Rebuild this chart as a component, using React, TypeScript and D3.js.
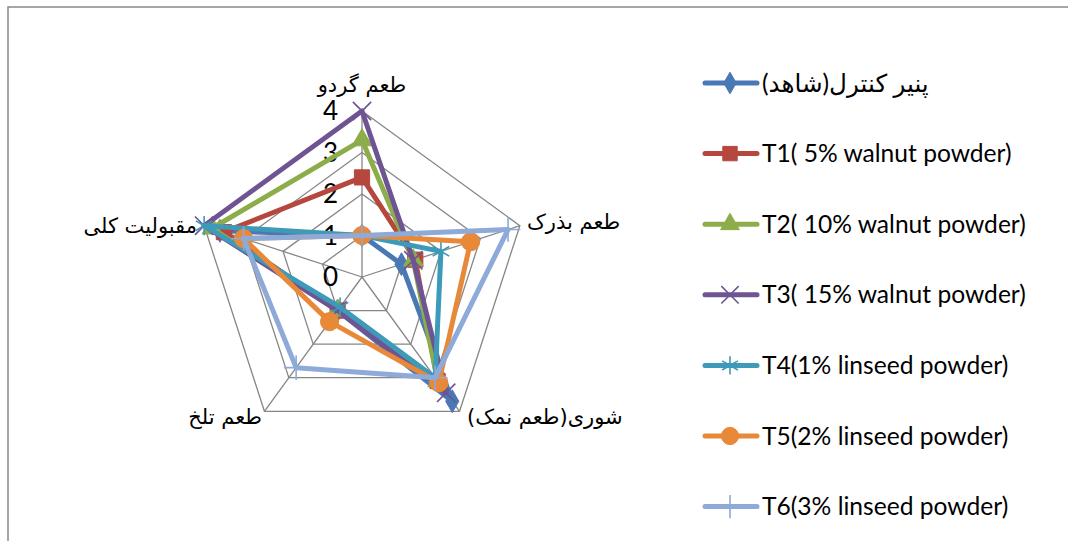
import { useEffect, useRef } from 'react';
import * as d3 from 'd3';

// axes, clockwise from the top
const axes = ['طعم گردو', 'طعم بذرک', 'شوری(طعم نمک)\u200F', 'طعم تلخ', 'مقبولیت کلی'];
const ticks = [0, 1, 2, 3, 4];

const seriesNames = [
  'پنیر کنترل(شاهد)\u200F',
  'T1( 5% walnut powder)',
  'T2( 10% walnut powder)',
  'T3( 15% walnut powder)',
  'T4(1% linseed powder)',
  'T5(2% linseed powder)',
  'T6(3% linseed powder)',
];

const control = [1, 1, 3.7, 1, 3.6];
const t1 = [2.4, 1.35, 3.1, 1, 3.5];
const t2 = [3.3, 1.3, 3.1, 1, 3.8];
const t3 = [4, 1.3, 3.45, 1, 4];
const t4 = [1, 2, 3, 0.9, 4];
const t5 = [1, 2.75, 3.15, 1.33, 3];
const t6 = [1, 3.7, 3, 2.7, 3];

const seriesValues = [control, t1, t2, t3, t4, t5, t6];
const colors = ['#4a78b4', '#b5473f', '#8cad4a', '#6f5494', '#3d9ab8', '#e8893a', '#8eaad8'];
const markers = ['diamond', 'square', 'triangle', 'times', 'asterisk', 'circle', 'plus'];

const W = 1068;
const H = 541;
const cx = 362;
const cy = 277;
const R = 166;

const App = () => {
  const ref = useRef<SVGSVGElement>(null);

  useEffect(() => {
    const svg = d3.select(ref.current);
    svg.selectAll('*').remove();

    // chart frame (runs off the right and bottom edges)
    svg.append('rect')
      .attr('x', 8).attr('y', 7)
      .attr('width', W + 20).attr('height', H + 20)
      .attr('fill', 'white')
      .attr('stroke', '#898989').attr('stroke-width', 1.5);

    const r = d3.scaleLinear().domain([0, 4]).range([0, R]);
    const angle = d3.scaleLinear().domain([0, axes.length]).range([0, 2 * Math.PI]);
    const pt = (i: number, v: number): [number, number] => [
      cx + r(v) * Math.sin(angle(i)),
      cy - r(v) * Math.cos(angle(i)),
    ];

    const g = svg.append('g');

    // grid rings
    ticks.slice(1).forEach((t) => {
      g.append('path')
        .attr('d', d3.line()(axes.map((_, i) => pt(i, t))) + 'Z')
        .attr('fill', 'none')
        .attr('stroke', '#868686')
        .attr('stroke-width', 1.3);
    });
    // spokes
    axes.forEach((_, i) => {
      const [x, y] = pt(i, 4);
      g.append('line')
        .attr('x1', cx).attr('y1', cy).attr('x2', x).attr('y2', y)
        .attr('stroke', '#868686').attr('stroke-width', 1.3);
    });

    // tick labels
    ticks.forEach((t) => {
      g.append('text')
        .attr('x', cx - 24)
        .attr('y', cy - r(t))
        .attr('dy', '0.36em')
        .attr('text-anchor', 'end')
        .attr('font-family', 'Lato, "DejaVu Sans", sans-serif')
        .attr('font-size', 26)
        .text(t);
    });

    // axis labels
    const labelPos = [
      { x: cx, y: 85, anchor: 'middle' },
      { x: 527, y: 222, anchor: 'start' },
      { x: 467, y: 417, anchor: 'start' },
      { x: 262, y: 417, anchor: 'end' },
      { x: 197, y: 226, anchor: 'end' },
    ];
    axes.forEach((a, i) => {
      g.append('text')
        .attr('x', labelPos[i].x)
        .attr('y', labelPos[i].y)
        .attr('dy', '0.35em')
        .attr('text-anchor', labelPos[i].anchor)
        .attr('font-family', '"DejaVu Sans", sans-serif')
        .attr('font-size', 21)
        .text(a);
    });

    const symbolFor = (m: string, size: number) => {
      const types: Record<string, d3.SymbolType> = {
        diamond: d3.symbolDiamond,
        square: d3.symbolSquare,
        triangle: d3.symbolTriangle,
        circle: d3.symbolCircle,
        times: d3.symbolTimes,
        asterisk: d3.symbolAsterisk,
        plus: d3.symbolPlus,
      };
      return d3.symbol().type(types[m]).size(size)();
    };
    const isStroke = (m: string) => m === 'times' || m === 'asterisk' || m === 'plus';
    const markerSize: Record<string, number> = {
      diamond: 150, square: 230, triangle: 170, circle: 260, times: 220, asterisk: 260, plus: 200,
    };

    const line = d3.line().curve(d3.curveLinearClosed);

    seriesValues.forEach((vals, s) => {
      const pts = vals.map((v, i) => pt(i, v));
      g.append('path')
        .attr('d', line(pts))
        .attr('fill', 'none')
        .attr('stroke', colors[s])
        .attr('stroke-width', 5)
        .attr('stroke-linejoin', 'round');
      pts.forEach(([x, y]) => {
        g.append('path')
          .attr('d', symbolFor(markers[s], markerSize[markers[s]]))
          .attr('transform', `translate(${x},${y})`)
          .attr('fill', isStroke(markers[s]) ? 'none' : colors[s])
          .attr('stroke', colors[s])
          .attr('stroke-width', isStroke(markers[s]) ? 1.6 : 1);
      });
    });

    // legend
    const legend = svg.append('g');
    seriesNames.forEach((name, s) => {
      const y = 83 + s * 70.6;
      legend.append('line')
        .attr('x1', 705).attr('x2', 757).attr('y1', y).attr('y2', y)
        .attr('stroke', colors[s]).attr('stroke-width', 5).attr('stroke-linecap', 'round');
      legend.append('path')
        .attr('d', symbolFor(markers[s], markerSize[markers[s]] * 0.9))
        .attr('transform', `translate(730,${y})`)
        .attr('fill', isStroke(markers[s]) ? 'none' : colors[s])
        .attr('stroke', colors[s])
        .attr('stroke-width', isStroke(markers[s]) ? 1.6 : 1);
      legend.append('text')
        .attr('x', 762)
        .attr('y', y)
        .attr('dy', '0.35em')
        .attr('font-family', 'Lato, "DejaVu Sans", sans-serif')
        .attr('font-size', 24.6)
        .text(name);
    });
  }, []);

  return (
    <svg
      ref={ref}
      width={W}
      height={H}
      style={{ position: 'absolute', left: 0, top: 0, background: 'white' }}
    />
  );
};

export default App;
